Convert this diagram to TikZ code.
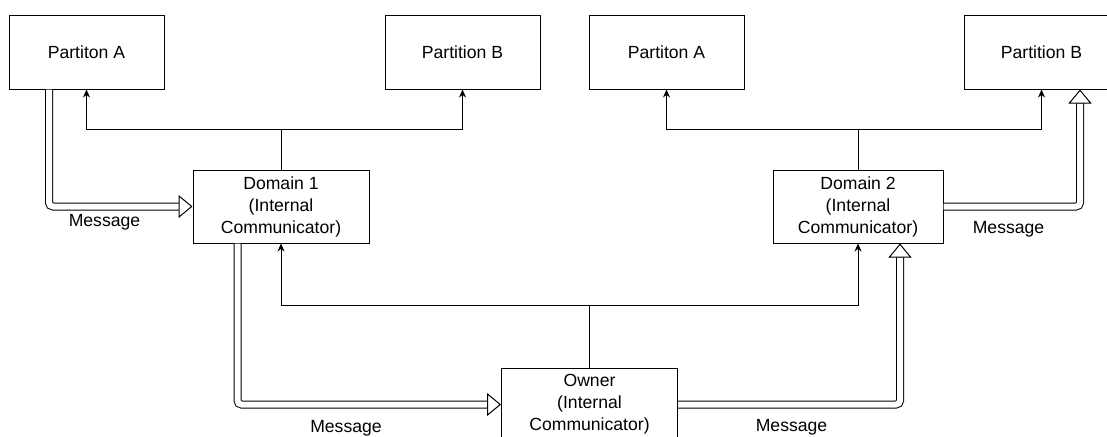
\documentclass[tikz,border=0pt]{standalone}
\usepackage{fontspec}
\setmainfont{Liberation Sans}
\usetikzlibrary{arrows.meta,positioning}

\tikzset{
  part/.style={rectangle, draw, line width=0.5pt, minimum width=77.5pt, minimum height=37pt, inner sep=0pt},
  comm/.style={rectangle, draw, line width=0.5pt, minimum width=88pt, minimum height=36.5pt, inner sep=0pt, align=center},
  link/.style={line width=0.5pt, -{Stealth[length=4pt, width=3.5pt]}},
  msg/.style={line width=0.5pt, double, double distance=3pt, rounded corners=2pt,
              -{Triangle[open, length=7pt, width=11.5pt]}},
  lbl/.style={inner sep=0pt}
}

\begin{document}
\begin{tikzpicture}[x=0.5pt, y=-0.5pt, font=\fontsize{8.8}{11}\selectfont]
      \useasboundingbox (0,0) rectangle (1107,436);
      % Place nodes
      \node [part] (pa1) at (86.5,52) {Partiton A};
      \node [part] (pb1) at (462.5,52) {Partition B};
      \node [part] (pa2) at (666.5,52) {Partiton A};
      \node [part] (pb2) at (1041.5,52) {Partition B};
      \node [comm] (dom1) at (281,206.5) {Domain 1\\(Internal\\Communicator)};
      \node [comm, minimum width=85pt] (dom2) at (858,206.5) {Domain 2\\(Internal\\Communicator)};
      \node [comm] (own) at (589.5,404.5) {Owner\\(Internal\\Communicator)};
      \coordinate (j1) at (281,129);
      \coordinate (j2) at (858,129);
      \coordinate (j3) at (589.5,305.5);
      % Draw edges
      \draw [line width=0.5pt] (dom1.north) -- (j1);
      \draw [link] (j1) -| (pa1.south);
      \draw [link] (j1) -| (pb1.south);
      \draw [line width=0.5pt] (dom2.north) -- (j2);
      \draw [link] (j2) -| (pa2.south);
      \draw [link] (j2) -| (pb2.south);
      \draw [line width=0.5pt] (own.north) -- (j3);
      \draw [link] (j3) -| (dom1.south);
      \draw [link] (j3) -| (dom2.south);
      % Messages
      \draw [msg] ([xshift=-18.75pt]pa1.south) |- (dom1.west);
      \draw [msg] ([xshift=-21.75pt]dom1.south) |- (own.west);
      \draw [msg] (own.east) -| ([xshift=21pt]dom2.south);
      \draw [msg] (dom2.east) -| ([xshift=19.25pt]pb2.south);
      \node [lbl] (m1) at (104.5,222) {Message};
      \node [lbl] (m2) at (346,428) {Message};
      \node [lbl] (m3) at (791.5,427) {Message};
      \node [lbl] (m4) at (1008.5,229) {Message};
\end{tikzpicture}
\end{document}
